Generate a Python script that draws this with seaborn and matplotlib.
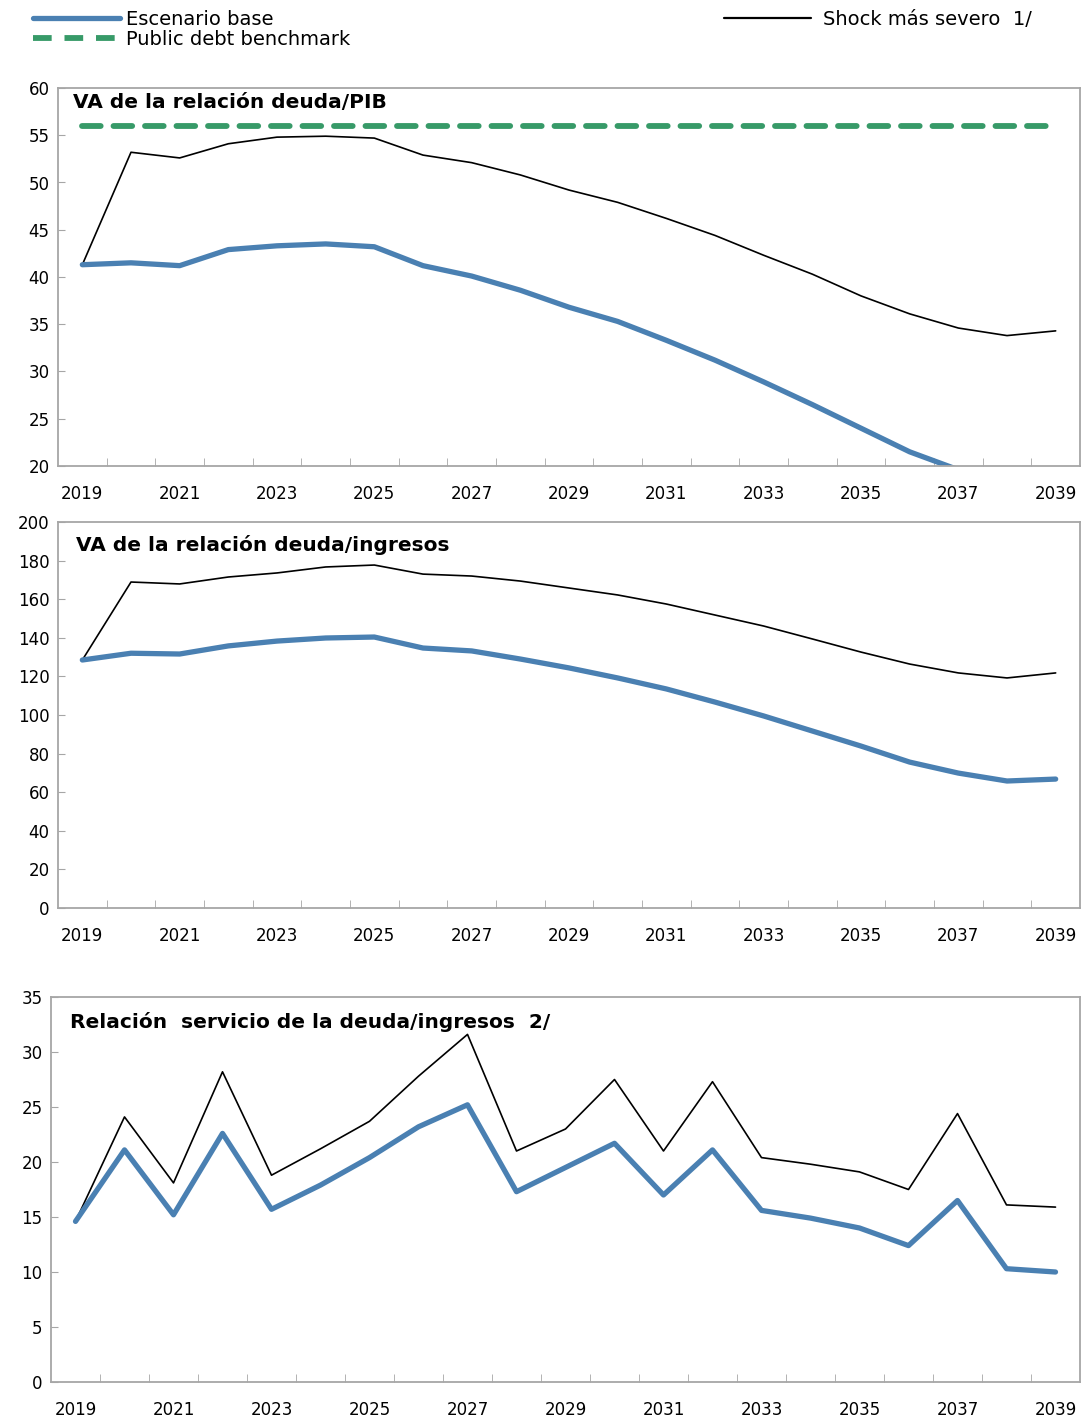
import numpy as np
import pandas as pd
import matplotlib.pyplot as plt
import seaborn as sns
from matplotlib.lines import Line2D

sns.set_style("ticks")
plt.rcParams['font.family'] = ['DejaVu Sans']
plt.rcParams['text.color'] = 'black'
plt.rcParams['xtick.labelcolor'] = 'black'
plt.rcParams['ytick.labelcolor'] = 'black'

years = [str(y) for y in range(2019, 2040)]

# VA de la relación deuda/PIB
pib_base = [41.3, 41.5, 41.2, 42.9, 43.3, 43.5, 43.2, 41.2, 40.1, 38.6, 36.8,
            35.3, 33.3, 31.2, 28.9, 26.5, 24.0, 21.5, 19.6, 18.4, 18.3]
pib_shock = [41.3, 53.2, 52.6, 54.1, 54.8, 54.9, 54.7, 52.9, 52.1, 50.8, 49.2,
             47.9, 46.2, 44.4, 42.3, 40.3, 38.0, 36.1, 34.6, 33.8, 34.3]
benchmark = [56] * 21

# VA de la relación deuda/ingresos
ing_base = [128.5, 132.0, 131.6, 135.8, 138.3, 139.9, 140.4, 134.7, 133.2, 129.0, 124.4,
            119.2, 113.5, 106.7, 99.5, 91.7, 83.9, 75.6, 69.9, 65.8, 66.8]
ing_shock = [128.5, 168.9, 167.9, 171.5, 173.6, 176.7, 177.7, 173.0, 172.0, 169.4, 165.8,
             162.2, 157.5, 151.8, 146.1, 139.4, 132.6, 126.4, 121.8, 119.2, 121.8]

# Relación servicio de la deuda/ingresos
serv_base = [14.6, 21.1, 15.2, 22.6, 15.7, 17.9, 20.4, 23.2, 25.2, 17.3, 19.5,
             21.7, 17.0, 21.1, 15.6, 14.9, 14.0, 12.4, 16.5, 10.3, 10.0]
serv_shock = [14.6, 24.1, 18.1, 28.2, 18.8, 21.2, 23.7, 27.8, 31.6, 21.0, 23.0,
              27.5, 21.0, 27.3, 20.4, 19.8, 19.1, 17.5, 24.4, 16.1, 15.9]

BLUE = "#4a80b2"
GREEN = "#379a68"
FRAME = "#a6a6a6"

fig = plt.figure(figsize=(10.83, 14.18), dpi=100)
W, H = 1083, 1418


def make_ax(left, top, right, bottom):
    return fig.add_axes([left / W, 1 - bottom / H, (right - left) / W, (bottom - top) / H])


panels = [
    (make_ax(58, 88, 1080, 466), pib_base, pib_shock, True, (20, 60), 5,
     "VA de la relación deuda/PIB", 15, 5),
    (make_ax(58, 522, 1080, 908), ing_base, ing_shock, False, (0, 200), 20,
     "VA de la relación deuda/ingresos", 18, 13),
    (make_ax(51, 997, 1080, 1382), serv_base, serv_shock, False, (0, 35), 5,
     "Relación  servicio de la deuda/ingresos  2/", 19, 15),
]

for ax, base, shock, show_bench, ylim, step, title, tx, ty in panels:
    df = pd.DataFrame({"year": years, "base": base, "shock": shock, "bench": benchmark})
    sns.lineplot(data=df, x="year", y="shock", ax=ax, color="black", lw=1.2, sort=False)
    sns.lineplot(data=df, x="year", y="base", ax=ax, color=BLUE, lw=3.8, sort=False)
    if show_bench:
        sns.lineplot(data=df, x="year", y="bench", ax=ax, color=GREEN, lw=4.2, sort=False,
                     linestyle=(0, (3.2, 2.2)), dash_capstyle="round")
    ax.set_xlim(-0.5, 20.5)
    ax.set_ylim(*ylim)
    ax.set_yticks(np.arange(ylim[0], ylim[1] + step / 2, step))
    ax.set_xticks(range(0, 21, 2))
    ax.set_xticklabels(years[::2])
    ax.set_xticks(np.arange(0.5, 20, 1), minor=True)
    ax.tick_params(axis="x", which="major", length=0, pad=14, labelsize=12)
    ax.tick_params(axis="x", which="minor", length=6, direction="in", color=FRAME)
    ax.tick_params(axis="y", length=5, direction="in", color=FRAME, labelsize=12, pad=6)
    ax.set_xlabel("")
    ax.set_ylabel("")
    for sp in ax.spines.values():
        sp.set_color(FRAME)
        sp.set_linewidth(1.3)
    bbox = ax.get_position()
    ax.text(tx / (bbox.width * W), 1 - ty / (bbox.height * H), title,
            transform=ax.transAxes, va="top", ha="left",
            fontsize=14.5, fontweight="bold")

h_base = Line2D([], [], color=BLUE, lw=3.8)
h_bench = Line2D([], [], color=GREEN, lw=4.2, linestyle=(0, (3.2, 2.2)))
h_shock = Line2D([], [], color="black", lw=1.6)

fig.legend([h_base, h_bench], ["Escenario base", "Public debt benchmark"],
           loc="upper left", bbox_to_anchor=(25 / W, 1 - 2 / H), frameon=False,
           fontsize=14, handlelength=4.5, handletextpad=0.3, labelspacing=0.05,
           borderaxespad=0)
fig.legend([h_shock], ["Shock más severo  1/"],
           loc="upper left", bbox_to_anchor=(716 / W, 1 - 2 / H), frameon=False,
           fontsize=14, handlelength=4.5, handletextpad=0.6, borderaxespad=0)

fig.savefig("out.png", dpi=100)
